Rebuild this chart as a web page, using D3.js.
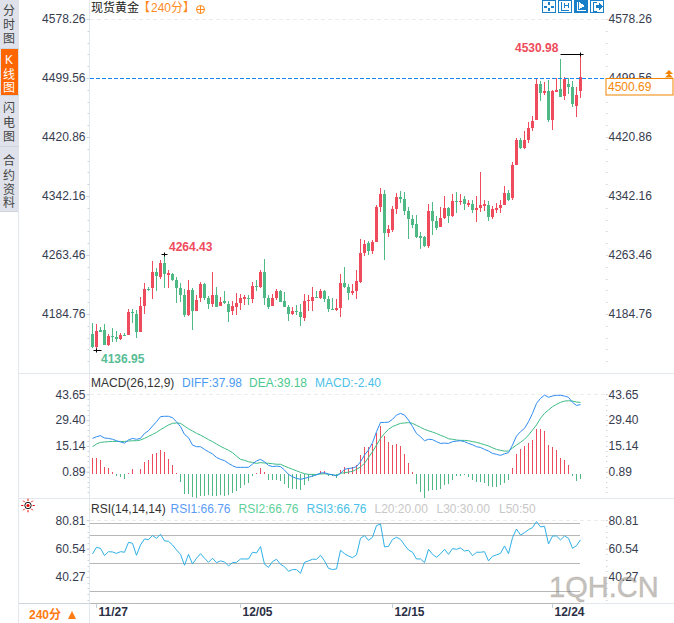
<!DOCTYPE html>
<html>
<head>
<meta charset="utf-8">
<style>
html,body{margin:0;padding:0;background:#fff;overflow:hidden}
svg{display:block}
text{font-family:"Liberation Sans","Noto Sans CJK SC",sans-serif;font-size:12px}
</style>
<script src="https://cdn.jsdelivr.net/npm/d3@7"></script>
</head>
<body>
<div id="chart"></div>
<script>
// values
const opens = [
4158,4141,4163,4163,4143,4155,4154.5,4151,4157,4157,
4187,4185,4161,4195,4218.5,4220,4241,4234,4253,4237,
4238,4230,4219,4210,4183,4217,4189,4206,4225,4206,
4198,4210,4195.5,4202,4198.5,4189,4194.5,4199.5,4205,4206.5,
4205,4222,4221,4241,4206,4196,4206,4215.5,4202,4194,
4184.5,4188.5,4187.5,4179.5,4202,4202.5,4207.5,4206,4215.5,4204.5,
4191.5,4190,4192.5,4226,4220.5,4212.5,4215.5,4227.5,4266,4279.5,
4268.5,4280.5,4327.5,4345,4293,4297,4325,4341,4338,4322,
4311.5,4305,4289,4287.5,4275.5,4322,4309,4301,4313,4326,
4315.5,4335.5,4334,4338,4330,4331.5,4323.5,4326,4329,4330,
4314,4323.5,4326,4330,4346,4339.5,4383.5,4417,4406.5,4417,
4432.5,4443.5,4491,4479.5,4482,4443.5,4481,4485,4475.5,4491.5,
4487.5,4462,4482];
const highs = [
4173,4171,4168,4171,4158,4166,4162,4160,4160,4191,
4191,4190,4207,4226.5,4221,4256,4246,4257,4264.43,4244,
4240,4234.5,4225.5,4217.5,4230,4219,4210,4228,4226.5,4209,
4241,4221,4208,4215.5,4202.5,4201.5,4213,4212,4210,4210,
4228,4230,4244,4257.5,4210,4211.5,4218,4216.5,4214,4196.5,
4194.5,4196.5,4198,4211.5,4210,4220.5,4215.5,4218,4216.5,4208.5,
4206,4204.5,4238,4247.5,4224.5,4224.5,4243.5,4284.5,4283.5,4282,
4283.5,4330,4353,4350,4303.5,4329,4346,4349,4347.5,4327.5,
4317,4317,4294,4289,4331.5,4334,4315.5,4327.5,4342,4327.5,
4345,4347.5,4345,4342,4337,4337,4342,4374,4337,4335.5,
4329,4333,4337,4355.5,4350,4388,4419,4419,4429,4440.5,
4449,4499,4495.5,4494,4497,4483.5,4499,4525,4501,4499,
4495.5,4487,4530.98];
const lows = [
4140,4136.95,4161,4143,4142,4148,4148,4150.5,4155,4156.5,
4173,4153,4160.5,4185,4215.5,4205,4216,4232,4220,4220,
4229,4200,4201,4181,4182,4164,4188.5,4201,4204,4192,
4193.5,4193.5,4195,4198,4174.5,4183.5,4183.5,4190,4197,4196.5,
4199,4215.5,4220,4197,4191.5,4195.5,4203.5,4200.5,4193.5,4176,
4184,4183,4169,4176,4189,4189,4206,4205,4200.5,4187.5,
4190,4188.5,4180.5,4219.5,4203.5,4210,4204.5,4226,4262,4263.5,
4264.5,4280.5,4321,4256.5,4287.5,4294,4318,4333,4317,4284.5,
4299.5,4286,4271.5,4274,4273,4290,4297,4301,4311.5,4306,
4314,4319.5,4330,4323.5,4327.5,4319.5,4307.5,4321,4322,4309,
4311.5,4319.5,4319.5,4330,4335.5,4337,4383,4405,4405,4412.5,
4429,4443.5,4469,4477,4441,4430,4480.5,4474,4470,4478,
4461,4447.5,4472.5];
const closes = [
4141,4162,4161,4144,4155,4154,4151,4157,4156,4187,
4186,4161,4195,4218,4217,4241,4235,4253,4238.5,4240,
4230,4219,4210,4183,4217,4189,4203,4225,4206,4198,
4210,4194,4201,4199,4187,4195,4199,4206,4208,4205.5,
4222,4221,4241,4206,4194,4206,4215.5,4201,4194,4184.5,
4188.5,4187,4180.5,4202,4203.5,4207.5,4206.5,4216,4204.5,4191.5,
4190.5,4192.5,4226,4220.5,4212.5,4215.5,4228.5,4266,4278,4268.5,
4280.5,4327.5,4345,4293,4298,4325,4341,4338,4322,4311.5,
4303.5,4287,4286,4275.5,4322,4309,4299.5,4313,4326,4315.5,
4335.5,4334,4335.5,4331.5,4333,4323.5,4326,4330,4331.5,4314,
4325,4326,4330,4346,4337,4383.5,4417,4406.5,4417,4432.5,
4442,4491,4479.5,4482,4443.5,4482,4483.5,4474,4498,4487.5,
4464.5,4477,4500.69];

const diff = [
19.3,20.2,20.8,19.5,19.3,18.8,18,17.3,16.7,18.4,
19.3,18.8,19.3,22,23.5,26.1,28.5,31.3,31.5,31.5,
30.7,28.5,25.8,21.5,19.7,15.6,14.7,14.7,13.2,11.9,
10.7,8.8,7.7,7,5.5,4.2,3.3,3.3,3.3,3.3,
5.1,6.8,7.7,6.4,4.4,3.7,4,3.7,1.8,-0.6,
-1.9,-2.8,-3.3,-2.8,-2.2,-1.5,-0.9,0.2,0.3,-0.4,
-0.8,-1.5,0,2.2,2.7,2.9,3.7,6.4,10.1,12.9,
16.9,23,28.1,28.1,28.3,29.8,32.2,33.1,32.2,29.4,
25.8,22,20.2,18,18.8,18.6,17.5,16.5,16.7,16.5,
17.5,17.8,18,17.5,16.5,15.8,14.7,14.3,13.2,12.3,
11,10.5,9.9,10.8,11.4,15.6,20.6,23,24.8,28.5,
33.1,38.6,41.4,43.2,42,42.7,43.1,43.1,42.7,42,
39.2,37.5,37.98];
const dea = [
14.7,16.2,17.1,17.3,17.5,17.6,17.6,17.6,17.6,17.8,
18,18,18.4,19.3,20.4,21.5,22.6,24.1,25.4,26.7,
27.6,27.8,27.6,26.1,24.6,23.4,22.1,21.1,19.9,18.6,
17.5,16.2,14.9,13.8,12.7,11.4,9.5,7.7,7.2,6.4,
6,5.5,5.9,5.7,5.5,5.3,5,5,4,3.1,
2.2,1.4,0.5,-0.2,-0.6,-0.6,-0.6,-0.4,-0.2,-0.6,
-0.8,-1.1,0,0.3,0.7,1.1,2.2,3.5,5.5,8.8,
11.9,15.6,19.3,22,24.3,25.8,26.7,27.6,27.8,28,
27.6,26.5,25.4,24.3,23.5,22.8,22,21,20.2,19.1,
18.8,18.4,18.2,18.2,18,17.5,17.1,16.5,15.8,15.1,
14.1,13.2,12.7,12.3,12.3,14,15.6,17.1,18.8,21.1,
23.9,26.7,30.4,33.1,35,36.8,38.1,39.2,39.9,40.1,
39.9,39.4,39.18];
const macdHist = [
9.2,9.2,8.1,4.2,3.5,1.3,-0.8,-1.3,-2.4,0.7,
3.1,0.4,3.1,7,8.1,11.4,12,13.6,12.5,8.7,
5.3,0.9,-4.1,-10.7,-10.7,-12.3,-12.9,-11.8,-11.8,-11.2,
-11.8,-11.8,-11.2,-11.8,-11.2,-10.1,-9,-7.4,-5.7,-4.6,
-0.8,0.9,3.7,1.5,-2.9,-2.9,-2.9,-3.5,-5.2,-7.4,
-7.9,-7.9,-8.5,-5.7,-3.5,-1.3,-0.2,2,2,-0.7,
-0.7,-2,2.6,4.2,3.7,4.2,5.3,10.9,15.3,15.3,
16.9,23,26.9,21.4,18,16.4,16.9,15.8,11.4,6.4,
1.5,-5.2,-9.6,-12.9,-9,-8.5,-8.5,-7.9,-5.7,-5.2,
-2.9,-1.1,-0.7,-0.4,-1.3,-2.9,-4.1,-4.1,-4.6,-6.3,
-6.8,-6.8,-5.7,-4.6,-2.9,3.7,11.4,14.2,15.8,17.5,
19.2,25.2,25.2,24.1,16.4,15.3,13.6,9.2,8.1,5.3,
-0.7,-3.5,-2.40];
const rsi = [
56.7,61.4,60.7,55.5,58.3,58.1,57.1,58.3,57.9,65,
64.3,55.7,63.1,67.4,66.9,69.8,67.9,70.7,66,65.7,
63.1,59.5,56.4,48.6,56.4,49.5,53.6,56.9,53.6,50.7,
53.6,50.5,51.7,51,48.1,50.5,50.7,53.1,53.1,53.1,
57.9,57.4,61.9,49.3,47.1,51.2,52.9,49.3,47.6,44.3,
45.5,45.5,42.9,50.7,51.7,52.9,52.9,55.7,51.7,46.4,
45.5,46,59.3,56.9,55.2,54,56,67.9,69.8,66.4,
68.6,76.9,78.1,61.7,62.1,67.1,68.6,67.1,63.1,59.5,
57.9,53.1,53.1,50.5,60,56.4,54.3,56.7,60,56.4,
60.5,60,61,58.8,59.3,55.5,57.9,57.9,58.3,51.7,
55,56,57.1,62.4,56.9,68.3,74.5,70.2,71.9,74,
75.5,79.8,76,76.4,63.8,69.5,69.5,66.7,69.5,67.9,
60.7,62.6,66.76];

const priceTicks = [4578.26,4499.56,4420.86,4342.16,4263.46,4184.76];
const macdTicks = [43.65,29.40,15.14,0.89];
const rsiTicks = [80.81,60.54,40.27];
const rsiLevels = [79,70,50,30];
const dateLabels = ["11/27","12/05","12/15","12/24"];
const dateIndex = [1,37,75,115];
const lastPrice = 4500.69;
const priceLine = 4499.56;
const maxMark = {i:122, v:4530.98, side:"left"};
const leftMax = {i:18, v:4264.43};
const minMark = {i:1, v:4136.95};

const W = 674, H = 623;
const red = "#ee4b5c", green = "#4fb985", gridGrey = "#e3e7ee", labelCol = "#373c4f";

const svg = d3.select("#chart").append("svg").attr("width",W).attr("height",H);

const x = d3.scaleLinear().domain([0,opens.length-1]).range([92.5,580.5]);
const yP = d3.scaleLinear().domain([4578.26,4184.76]).range([19,314]);
const yM = d3.scaleLinear().domain([43.65,0.89]).range([394.3,471.7]);
const yR = d3.scaleLinear().domain([50,30]).range([563.3,591.3]);

// left tabs
const tabs = [
  {t:["分","时","图"],y0:0,y1:48,ys:[11,25,39]},
  {t:["K","线","图"],y0:49,y1:95,ys:[60,75,88],on:true},
  {t:["闪","电","图"],y0:96,y1:146,ys:[108,123,137]},
  {t:["合","约","资","料"],y0:147,y1:211,ys:[161,176,190,203]}
];
const tabG = svg.append("g");
tabG.append("rect").attr("x",0).attr("y",0).attr("width",19).attr("height",211).attr("fill","#dfe2ea");
tabs.forEach(d=>{
  if(d.on) tabG.append("rect").attr("x",1).attr("y",d.y0).attr("width",17).attr("height",d.y1-d.y0).attr("fill","#ff6600");
  tabG.append("line").attr("x1",0).attr("x2",19).attr("y1",d.y1+.5).attr("y2",d.y1+.5).attr("stroke","#cfd3dc");
  d.t.forEach((c,i)=>tabG.append("text").attr("x",9).attr("y",d.ys[i]).attr("dy","0.36em")
    .attr("text-anchor","middle").attr("fill",d.on?"#fff":"#444").style("font-size","12px").text(c));
});

// frame lines
const frame = svg.append("g").attr("stroke",gridGrey).attr("shape-rendering","crispEdges");
frame.append("line").attr("x1",18.5).attr("x2",18.5).attr("y1",211).attr("y2",H);
frame.append("line").attr("x1",89.5).attr("x2",89.5).attr("y1",0).attr("y2",H);
[373.5,498.5].forEach(v=>frame.append("line").attr("x1",18).attr("x2",W).attr("y1",v).attr("y2",v));
frame.append("line").attr("x1",18).attr("x2",W).attr("y1",603.5).attr("y2",603.5);

// axes, major labels both sides and small dotted minor ticks
function yAxes(scale, ticks, fmt, step, lo){
  const l = svg.append("g").attr("transform","translate(89.5,0)")
    .call(d3.axisLeft(scale).tickValues(ticks).tickFormat(fmt).tickSize(3).tickPadding(1));
  const r = svg.append("g").attr("transform","translate(606.5,0)")
    .call(d3.axisRight(scale).tickValues(ticks).tickFormat(fmt).tickSize(1).tickPadding(1));
  [l,r].forEach(a=>{
    a.select(".domain").remove();
    a.selectAll("line").attr("stroke","#c9d0dc");
    a.selectAll("text").attr("fill",labelCol).style("font-size","12px");
  });
  const minor = d3.range(ticks[0], lo, -step);
  [87.5,606].forEach(px=>{
    svg.append("g").selectAll("rect").data(minor).join("rect")
      .attr("x",px).attr("y",d=>Math.round(scale(d))).attr("width",1.5).attr("height",1).attr("fill","#cdd2da");
  });
}
yAxes(yP, priceTicks, d3.format(".2f"), 15.74, 4120);
yAxes(yM, macdTicks, d3.format(".2f"), 2.851, -12);
yAxes(yR, rsiTicks, d3.format(".2f"), 4.054, 21);

// dashed tops
[[yP,priceTicks[0]],[yM,macdTicks[0]],[yR,rsiTicks[0]]].forEach(([s,v])=>{
  svg.append("line").attr("x1",90).attr("x2",606).attr("y1",Math.round(s(v))+.5).attr("y2",Math.round(s(v))+.5)
    .attr("stroke","#ececec").attr("stroke-dasharray","4,3");
});

// candles
const idx = d3.range(opens.length);
const candles = svg.append("g").attr("shape-rendering","crispEdges");
const col = i => closes[i] >= opens[i] ? red : green;
candles.selectAll("line").data(idx).join("line")
  .attr("x1",i=>x(i)).attr("x2",i=>x(i))
  .attr("y1",i=>yP(highs[i])).attr("y2",i=>yP(lows[i]))
  .attr("stroke",col);
candles.selectAll("rect").data(idx).join("rect")
  .attr("x",i=>x(i)-1.5).attr("width",3)
  .attr("y",i=>yP(Math.max(opens[i],closes[i])))
  .attr("height",i=>Math.max(1,Math.abs(yP(opens[i])-yP(closes[i]))))
  .attr("fill",col);

// current price line
svg.append("line").attr("x1",90).attr("x2",606).attr("y1",yP(priceLine)+.5).attr("y2",yP(priceLine)+.5)
  .attr("stroke","#1487f5").attr("stroke-dasharray","4,2").attr("shape-rendering","crispEdges");

// high/low markers
function mark(m, dir, labelX, labelDy, color){
  const g = svg.append("g");
  const px = x(m.i), py = Math.round(yP(m.v))+.5;
  g.append("line").attr("x1",px-3).attr("x2",px+3).attr("y1",py).attr("y2",py).attr("stroke","#000");
  g.append("line").attr("x1",px).attr("x2",px).attr("y1",py-2).attr("y2",py+2).attr("stroke","#000");
  if(dir) g.append("line").attr("x1",px).attr("x2",px+dir).attr("y1",py).attr("y2",py).attr("stroke","#000");
  g.append("text").attr("x",labelX).attr("y",py+labelDy).attr("fill",color)
    .style("font-weight","bold").text(d3.format(".2f")(m.v));
}
mark(maxMark,-20,515,-3,red);
mark(leftMax,0,169,-4,red);
mark(minMark,5,101,12,"#57bd94");

// MACD
const histG = svg.append("g").attr("shape-rendering","crispEdges").attr("transform","translate(0,1)");
histG.selectAll("line").data(macdHist).join("line")
  .attr("x1",(d,i)=>x(i)).attr("x2",(d,i)=>x(i))
  .attr("y1",yM(0)).attr("y2",d=>yM(d))
  .attr("stroke",d=>d>=0?red:green);
const macdLine = d3.line().x((d,i)=>x(i)).y(d=>yM(d));
svg.append("path").attr("d",macdLine(dea)).attr("fill","none").attr("stroke","#3dbb84");
svg.append("path").attr("d",macdLine(diff)).attr("fill","none").attr("stroke","#2f8df0");

// RSI
rsiLevels.forEach(v=>{
  svg.append("line").attr("x1",90).attr("x2",580).attr("y1",Math.round(yR(v))+.5).attr("y2",Math.round(yR(v))+.5)
    .attr("stroke","#b7b7b7").attr("shape-rendering","crispEdges");
});
svg.append("line").attr("x1",90).attr("x2",580).attr("y1",603.5).attr("y2",603.5)
  .attr("stroke","#b7b7b7").attr("shape-rendering","crispEdges");
svg.append("path").attr("d",d3.line().x((d,i)=>x(i)).y(d=>yR(d))(rsi))
  .attr("fill","none").attr("stroke","#2fb0e6");

// date axis
const dates = svg.append("g");
dateIndex.forEach((v,i)=>{
  dates.append("line").attr("x1",x(v)).attr("x2",x(v)).attr("y1",604).attr("y2",608)
    .attr("stroke","#c9d0dc").attr("shape-rendering","crispEdges");
  dates.append("text").attr("x",x(v)+2).attr("y",616).attr("fill","#2a2f45")
    .style("font-weight","bold").text(dateLabels[i]);
});

// headers
function legend(items, y){
  items.forEach(d=>svg.append("text").attr("x",d[0]).attr("y",y).attr("fill",d[2]).text(d[1]));
}
legend([[91,"现货黄金","#222"],[138,"【","#ff8a1e"],[151,"240分","#ff8a1e"],[183,"】","#ff8a1e"]],12);
legend([[91,"MACD(26,12,9)","#333"],[182,"DIFF:37.98","#4a9bf0"],[249,"DEA:39.18","#4cc990"],[315,"MACD:-2.40","#4bbfe8"]],387);
legend([[91,"RSI(14,14,14)","#333"],[170.5,"RSI1:66.76","#5a9cf5"],[238.5,"RSI2:66.76","#5fd09a"],[306.5,"RSI3:66.76","#4bbfe8"],
  [374.5,"L20:20.00","#c8c8c8"],[436.5,"L30:30.00","#c8c8c8"],[499,"L50:50","#c8c8c8"]],513);

// add-icon next to title
const plus = svg.append("g").attr("transform","translate(200.5,9.5)").attr("stroke","#ff8a1e").attr("fill","none");
plus.append("circle").attr("r",4);
plus.append("path").attr("d","M-4,0H4M0,-4V4");

// toolbar
const icons = [542,558,574,590];
icons.forEach((ix,i)=>{
  const g = svg.append("g").attr("transform",`translate(${ix},0)`).attr("shape-rendering","crispEdges");
  const on = i==2;
  const fg = on ? "#fff" : "#1a7fc8";
  g.append("rect").attr("x",.5).attr("y",.5).attr("width",13).attr("height",12).attr("fill",on?"#1a7fc8":"#fff").attr("stroke","#1a7fc8");
  if(i==0){
    g.append("path").attr("d","M2,6.5H5M9,6.5H12M7,2V5M7,8V11").attr("stroke",fg).attr("stroke-width",2);
  } else if(i==1){
    g.append("path").attr("d","M3,2V10H11M6,3V8M10,3V8M6,5.5H10").attr("stroke",fg).attr("fill","none");
  } else if(i==2){
    g.append("path").attr("d","M3,2V10H12").attr("stroke",fg).attr("fill","none");
    g.append("path").attr("d","M5,2L11,6L5,9Z").attr("fill",fg);
  } else {
    g.append("path").attr("d","M3,2V11M3,2H7M3,11H7").attr("stroke",fg).attr("fill","none");
    g.append("path").attr("d","M6,5H9V3L13,6.5L9,10V8H6Z").attr("fill",fg);
  }
});

// last price box
const priceBox = svg.append("g");
priceBox.append("rect").attr("x",606).attr("y",78.5).attr("width",67).attr("height",16.5)
  .attr("fill","#fff").attr("stroke","#f08300");
priceBox.append("text").attr("x",608).attr("y",91).attr("fill","#f7890a").text(d3.format(".2f")(lastPrice));
priceBox.append("path").attr("d","M669,70L673,74H665ZM669,73.5L673,77.5H665Z").attr("fill","#f08300");

// period box
svg.append("rect").attr("x",19).attr("y",604).attr("width",70).attr("height",19).attr("fill","#fff");
svg.append("text").attr("x",29).attr("y",618.5).attr("fill","#ff7a10").style("font-weight","bold").text("240分");
svg.append("path").attr("d","M72,611L76,619H68Z").attr("fill","#ff7a10");
svg.append("line").attr("x1",19).attr("x2",89).attr("y1",603.5).attr("y2",603.5).attr("stroke","#cfd5de");

// sun icon
const sun = svg.append("g").attr("transform","translate(28,505.5)");
sun.append("circle").attr("r",3.2).attr("fill","#fff").attr("stroke","#111");
sun.append("circle").attr("r",1.6).attr("fill","#e00");
sun.selectAll("line").data(d3.range(8)).join("line")
  .attr("x1",d=>4.6*Math.cos(d*Math.PI/4)).attr("y1",d=>4.6*Math.sin(d*Math.PI/4))
  .attr("x2",d=>6.8*Math.cos(d*Math.PI/4)).attr("y2",d=>6.8*Math.sin(d*Math.PI/4))
  .attr("stroke","#e00");

// watermark
svg.append("text").attr("x",549).attr("y",597)
  .attr("fill","rgba(120,118,115,.45)").attr("stroke","rgba(170,150,130,.3)")
  .style("font-size","29px").text("1QH.CN");
</script>
</body>
</html>
